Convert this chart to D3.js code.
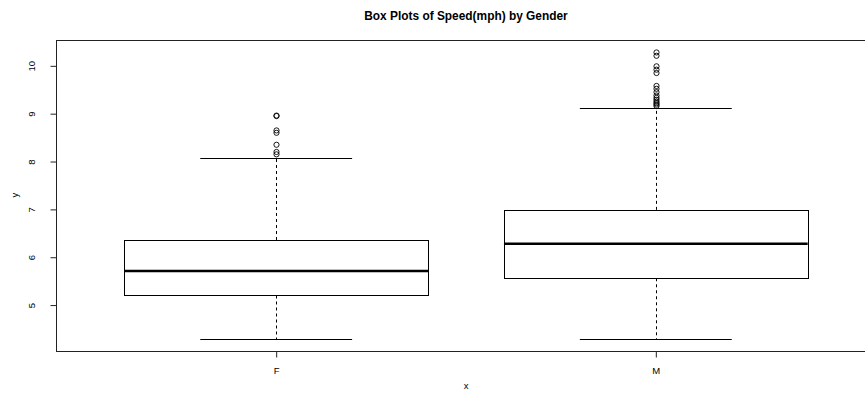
<!DOCTYPE html>
<html>
<head>
<meta charset="utf-8">
<script src="https://cdn.jsdelivr.net/npm/d3@7"></script>
<style>
  html, body { margin: 0; padding: 0; background: #fff; }
  svg { display: block; font-family: "Liberation Sans", Arial, Helvetica, sans-serif; }
</style>
</head>
<body>
<svg id="chart" width="865" height="404"></svg>
<script>
// Summary statistics of running speed (mph) per gender
const categories   = ["F", "M"];
const whiskerLow   = [4.29, 4.29];
const quartile1    = [5.20, 5.56];
const medians      = [5.71, 6.28];
const quartile3    = [6.36, 6.99];
const whiskerHigh  = [8.08, 9.12];
const outliersF    = [8.95, 8.96, 8.65, 8.60, 8.35, 8.20, 8.15];
const outliersM    = [10.28, 10.21, 9.99, 9.92, 9.85, 9.58, 9.52, 9.45, 9.38, 9.33, 9.29, 9.25, 9.22, 9.19, 9.16];
const yTicks       = [5, 6, 7, 8, 9, 10];

const outliers = [outliersF, outliersM];
const groups = categories.map((c, i) => ({
  cat: c, pos: i + 1,
  lo: whiskerLow[i], q1: quartile1[i], med: medians[i], q3: quartile3[i], hi: whiskerHigh[i],
  out: outliers[i]
}));

const svg = d3.select("#chart");

// Plot region: x in group units with 4% padding, y likewise
const x = d3.scaleLinear().domain([0.42, 2.58]).range([56, 876]);
const y = d3.scaleLinear().domain([4.04, 10.54]).range([351, 40]);

const boxHalf = 0.4;     // half box width in group units
const capHalf = 0.2;     // half whisker-cap width

const g = svg.append("g");

// Whiskers (dashed)
g.selectAll(".whisk-lo").data(groups).enter().append("line")
  .attr("x1", d => Math.round(x(d.pos)) + 0.5).attr("x2", d => Math.round(x(d.pos)) + 0.5)
  .attr("y1", d => y(d.q1)).attr("y2", d => y(d.lo))
  .attr("stroke", "#000").attr("stroke-width", 1).attr("stroke-dasharray", "3,3");
g.selectAll(".whisk-hi").data(groups).enter().append("line")
  .attr("x1", d => Math.round(x(d.pos)) + 0.5).attr("x2", d => Math.round(x(d.pos)) + 0.5)
  .attr("y1", d => y(d.q3)).attr("y2", d => y(d.hi))
  .attr("stroke", "#000").attr("stroke-width", 1).attr("stroke-dasharray", "3,3");

// Whisker caps
["lo", "hi"].forEach(k => {
  g.selectAll(".cap-" + k).data(groups).enter().append("line")
    .attr("x1", d => x(d.pos - capHalf)).attr("x2", d => x(d.pos + capHalf))
    .attr("y1", d => Math.round(y(d[k])) + 0.5).attr("y2", d => Math.round(y(d[k])) + 0.5)
    .attr("stroke", "#000").attr("stroke-width", 1);
});

// Boxes
g.selectAll(".box").data(groups).enter().append("rect")
  .attr("x", d => Math.round(x(d.pos - boxHalf)) + 0.5)
  .attr("y", d => Math.round(y(d.q3)) + 0.5)
  .attr("width", d => Math.round(x(d.pos + boxHalf)) - Math.round(x(d.pos - boxHalf)))
  .attr("height", d => Math.round(y(d.q1)) - Math.round(y(d.q3)))
  .attr("fill", "none").attr("stroke", "#000").attr("stroke-width", 1);

// Medians
g.selectAll(".median").data(groups).enter().append("line")
  .attr("x1", d => x(d.pos - boxHalf)).attr("x2", d => x(d.pos + boxHalf))
  .attr("y1", d => y(d.med)).attr("y2", d => y(d.med))
  .attr("stroke", "#000").attr("stroke-width", 2.5);

// Outliers
groups.forEach(d => {
  g.selectAll(null).data(d.out).enter().append("circle")
    .attr("cx", Math.round(x(d.pos)) + 0.5)
    .attr("cy", v => y(v))
    .attr("r", 2.6)
    .attr("fill", "none").attr("stroke", "#000").attr("stroke-width", 0.9);
});

// Frame around the plot region
svg.append("rect")
  .attr("x", 56.5).attr("y", 40.5).attr("width", 876 - 56).attr("height", 351 - 40)
  .attr("fill", "none").attr("stroke", "#222").attr("stroke-width", 1);

// Y axis (line spans first to last tick, labels rotated)
const yAxis = d3.axisLeft(y).tickValues(yTicks).tickSize(6).tickPadding(0).tickFormat(d3.format("d"));
const yg = svg.append("g").attr("transform", "translate(56.5,0)").call(yAxis);
yg.select(".domain").attr("d", `M0,${y(yTicks[0])}V${y(yTicks[yTicks.length - 1])}`).attr("stroke", "#222");
yg.selectAll(".tick line").attr("stroke", "#222");
yg.selectAll(".tick text")
  .attr("x", null).attr("dy", null)
  .attr("transform", "translate(-22,0) rotate(-90)")
  .attr("text-anchor", "middle")
  .attr("font-size", 9.5).attr("fill", "#000")
  .attr("font-family", "Liberation Sans, Arial, sans-serif");

// X axis (categories)
const xAxis = d3.axisBottom(x).tickValues(groups.map(d => d.pos)).tickFormat((d, i) => categories[i])
  .tickSize(6).tickPadding(0);
const xg = svg.append("g").attr("transform", "translate(0,351.5)").call(xAxis);
xg.select(".domain").attr("d", `M${x(1)},0H${x(2)}`).attr("stroke", "#222");
xg.selectAll(".tick line").attr("stroke", "#222");
xg.selectAll(".tick text")
  .attr("y", 22).attr("dy", null)
  .attr("font-size", 9.5).attr("fill", "#000")
  .attr("font-family", "Liberation Sans, Arial, sans-serif");

// Axis titles
svg.append("text").attr("x", x(1.5)).attr("y", 389).attr("text-anchor", "middle")
  .attr("font-size", 9.5).text("x");
svg.append("text").attr("transform", `translate(18,${y(7.3)}) rotate(-90)`).attr("text-anchor", "middle")
  .attr("font-size", 9.5).text("y");

// Title
svg.append("text").attr("x", x(1.5)).attr("y", 20).attr("text-anchor", "middle")
  .attr("font-size", 11.9).attr("font-weight", "bold").text("Box Plots of Speed(mph) by Gender");
</script>
</body>
</html>
